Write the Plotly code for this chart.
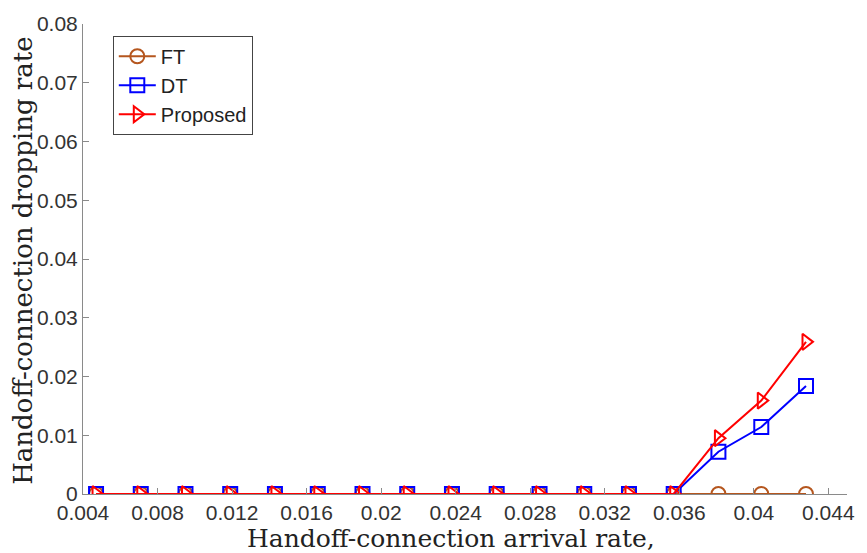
import plotly.graph_objects as go

# Handoff-connection arrival rate (x) and dropping rate for each scheme
arrival_rate = [0.0047, 0.0071, 0.0095, 0.0119, 0.0143, 0.0166, 0.0190, 0.0214,
                0.0238, 0.0262, 0.0285, 0.0309, 0.0333, 0.0357, 0.0381, 0.0404, 0.0428]
ft_drop = [0.0] * 17
dt_drop = [0.0] * 14 + [0.0072, 0.0114, 0.0184]
proposed_drop = [0.0] * 14 + [0.0095, 0.0159, 0.0259]

x_tick_vals = [0.004, 0.008, 0.012, 0.016, 0.02, 0.024, 0.028, 0.032, 0.036, 0.04, 0.044]
x_tick_text = ["0.004", "0.008", "0.012", "0.016", "0.02", "0.024", "0.028", "0.032", "0.036", "0.04", "0.044"]
y_tick_vals = [0, 0.01, 0.02, 0.03, 0.04, 0.05, 0.06, 0.07, 0.08]
y_tick_text = ["0", "0.01", "0.02", "0.03", "0.04", "0.05", "0.06", "0.07", "0.08"]

series = [
    ("FT", ft_drop, "#b5561e", "circle-open"),
    ("DT", dt_drop, "#0000ff", "square-open"),
    ("Proposed", proposed_drop, "#ff0000", "triangle-right-open"),
]

fig = go.Figure()
for name, ys, color, symbol in series:
    fig.add_trace(go.Scatter(
        x=arrival_rate, y=ys, name=name, mode="lines+markers",
        line=dict(color=color, width=2),
        marker=dict(symbol=symbol, size=14, color=color, line=dict(width=2, color=color)),
    ))

axis_common = dict(
    showline=True, linecolor="#8a8a8a", linewidth=1,
    ticks="inside", ticklen=6, tickcolor="#8a8a8a",
    showgrid=False, zeroline=False, mirror=False,
    tickfont=dict(family="Liberation Sans, Arial, sans-serif", size=21, color="#333333"),
)

title_font = dict(family="DejaVu Serif, Liberation Serif, serif", color="#222222")

fig.update_layout(
    width=867, height=553,
    margin=dict(l=83, r=12, t=17, b=59),
    paper_bgcolor="white", plot_bgcolor="white",
    xaxis=dict(range=[0.004, 0.045], tickmode="array", tickvals=x_tick_vals,
               ticktext=x_tick_text, **axis_common),
    yaxis=dict(range=[0, 0.08], tickmode="array", tickvals=y_tick_vals,
               ticktext=y_tick_text, **axis_common),
    legend=dict(
        x=0.039, y=0.975, xanchor="left", yanchor="top",
        bgcolor="white", bordercolor="#444444", borderwidth=1,
        itemwidth=37,
        font=dict(family="Liberation Sans, Arial, sans-serif", size=20, color="#222222"),
    ),
    showlegend=True,
    annotations=[
        dict(text="Handoff-connection arrival rate,", xref="paper", yref="paper",
             x=0.482, y=-0.094, xanchor="center", yanchor="middle", showarrow=False,
             font=dict(size=25, **title_font)),
        dict(text="Handoff-connection dropping rate", xref="paper", yref="paper",
             x=-0.078, y=0.497, xanchor="center", yanchor="middle", textangle=-90,
             showarrow=False, font=dict(size=26, **title_font)),
    ],
)

fig.write_html("out.html")
